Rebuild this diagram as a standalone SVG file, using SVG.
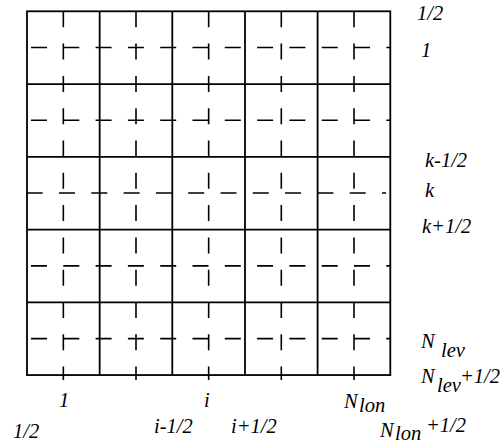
<svg xmlns="http://www.w3.org/2000/svg" width="503" height="448" viewBox="0 0 503 448">
<style>
.solid{stroke:#000;stroke-width:1.8;fill:none}
.dash{stroke:#000;stroke-width:1.6;fill:none;stroke-dasharray:16 16.3}
text{font-family:"Liberation Serif","Times New Roman",serif;font-style:italic;font-size:20.5px;fill:#000}
</style>
<rect width="503" height="448" fill="#fff"/>
<g id="grid">
<rect class="solid" x="27" y="11.3" width="363.3" height="363.75"/>
<line class="solid" x1="99.66" y1="11.3" x2="99.66" y2="375.05"/>
<line class="solid" x1="172.3" y1="11.3" x2="172.3" y2="375.05"/>
<line class="solid" x1="245" y1="11.3" x2="245" y2="375.05"/>
<line class="solid" x1="317.6" y1="11.3" x2="317.6" y2="375.05"/>
<line class="solid" x1="27" y1="84.05" x2="390.3" y2="84.05"/>
<line class="solid" x1="27" y1="156.8" x2="390.3" y2="156.8"/>
<line class="solid" x1="27" y1="229.55" x2="390.3" y2="229.55"/>
<line class="solid" x1="27" y1="302.3" x2="390.3" y2="302.3"/>
</g>
<g id="dashed-columns">
<line class="dash" x1="63.33" y1="11.3" x2="63.33" y2="380"/>
<line class="dash" x1="136" y1="11.3" x2="136" y2="380"/>
<line class="dash" x1="208.66" y1="11.3" x2="208.66" y2="380"/>
<line class="dash" x1="281.3" y1="11.3" x2="281.3" y2="380"/>
<line class="dash" x1="354" y1="11.3" x2="354" y2="380"/>
</g>
<g id="dashed-rows">
<line class="dash" x1="31" y1="47.5" x2="390.3" y2="47.5"/>
<line class="dash" x1="31" y1="120.3" x2="390.3" y2="120.3"/>
<line class="dash" x1="26.7" y1="193" x2="386" y2="193"/>
<line class="dash" x1="31" y1="265.9" x2="390.3" y2="265.9"/>
<line class="dash" x1="31" y1="338.6" x2="390.3" y2="338.6"/>
</g>
<g id="labels">
<text x="417" y="20">1/2</text>
<text x="421" y="57">1</text>
<text x="425" y="167">k-1/2</text>
<text x="425" y="197">k</text>
<text x="422" y="233">k+1/2</text>
<text x="421" y="348">N</text><text x="441" y="357">lev</text>
<text x="421" y="383">N</text><text x="437" y="392">lev</text><text x="460" y="383">+1/2</text>
<text x="344" y="408">N</text><text x="359" y="412">lon</text>
<text x="380" y="437">N</text><text x="395" y="440">lon</text><text x="426" y="432">+1/2</text>
<text x="59" y="407">1</text>
<text x="204" y="407">i</text>
<text x="13" y="438">1/2</text>
<text x="154" y="433">i-1/2</text>
<text x="231" y="433">i+1/2</text>
</g>
</svg>
